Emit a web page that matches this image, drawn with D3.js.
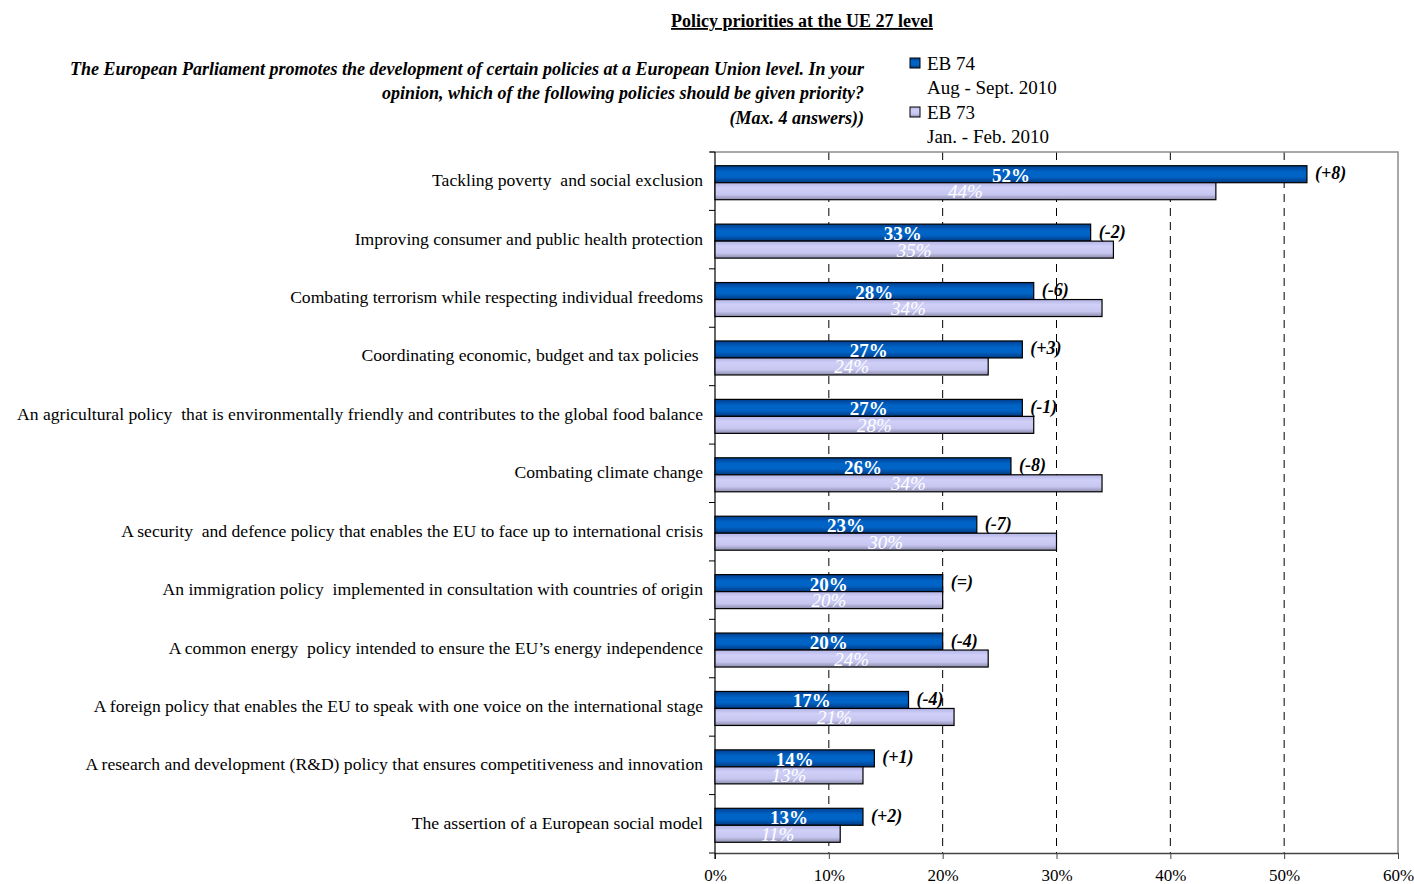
<!DOCTYPE html>
<html>
<head>
<meta charset="utf-8">
<script src="https://cdn.jsdelivr.net/npm/d3@7/dist/d3.min.js"></script>
<style>
  body { margin: 0; background: #fff; }
  svg text { font-family: "Liberation Serif", "Times New Roman", serif; }
</style>
</head>
<body>
<svg width="1414" height="884"></svg>
<script>
// categories, top to bottom
const categories = [
  "Tackling poverty  and social exclusion",
  "Improving consumer and public health protection",
  "Combating terrorism while respecting individual freedoms",
  "Coordinating economic, budget and tax policies ",
  "An agricultural policy  that is environmentally friendly and contributes to the global food balance",
  "Combating climate change",
  "A security  and defence policy that enables the EU to face up to international crisis",
  "An immigration policy  implemented in consultation with countries of origin",
  "A common energy  policy intended to ensure the EU\u2019s energy independence",
  "A foreign policy that enables the EU to speak with one voice on the international stage",
  "A research and development (R&D) policy that ensures competitiveness and innovation",
  "The assertion of a European social model"
];
const eb74 = [52, 33, 28, 27, 27, 26, 23, 20, 20, 17, 14, 13];
const eb73 = [44, 35, 34, 24, 28, 34, 30, 20, 24, 21, 13, 11];
const changes = ["(+8)", "(-2)", "(-6)", "(+3)", "(-1)", "(-8)", "(-7)", "(=)", "(-4)", "(-4)", "(+1)", "(+2)"];
const ticks = [0, 10, 20, 30, 40, 50, 60];

const svg = d3.select("svg").attr("font-family", "Liberation Serif, serif");

// gradients for the bars
const defs = svg.append("defs");
function grad(id, stops) {
  const g = defs.append("linearGradient").attr("id", id)
    .attr("x1", 0).attr("y1", 0).attr("x2", 0).attr("y2", 1);
  stops.forEach(s => g.append("stop").attr("offset", s[0]).attr("stop-color", s[1]));
}
grad("gDark", [[0, "#003f8f"], [0.35, "#0063c6"], [0.65, "#0063c6"], [1, "#003a80"]]);
grad("gLight", [[0, "#b4b4e6"], [0.3, "#cfcff8"], [0.7, "#c6c6f0"], [1, "#8c8cac"]]);

const plotL = 715, plotR = 1398, plotT = 152, plotB = 853;

const x = d3.scaleLinear().domain([0, 60]).range([plotL, plotR]);
const y = d3.scaleBand().domain(d3.range(categories.length)).range([plotT, plotB]);
const barH = 17;

// dashed gridlines
svg.append("g").selectAll("line")
  .data(ticks.filter(t => t > 0 && t < 60)).enter()
  .append("line")
  .attr("x1", d => x(d)).attr("x2", d => x(d))
  .attr("y1", plotT).attr("y2", plotB)
  .attr("stroke", "#000").attr("stroke-width", 1)
  .attr("stroke-dasharray", "8,6");

// frame top and right
svg.append("path")
  .attr("d", `M${plotL - 5},${plotT}H${plotR}V${plotB}`)
  .attr("fill", "none").attr("stroke", "#8c8c8c").attr("stroke-width", 1.5);

// x axis
const xAxis = svg.append("g")
  .attr("transform", `translate(0,${plotB})`)
  .call(d3.axisBottom(x).tickValues(ticks).tickFormat(d => d + "%").tickSize(6).tickSizeOuter(0));
xAxis.select(".domain").attr("stroke", "#444").attr("stroke-width", 1.5);
xAxis.selectAll(".tick line").attr("stroke", "#444");
xAxis.selectAll("text")
  .attr("font-size", 17).attr("fill", "#000")
  .attr("font-family", "Liberation Serif, serif")
  .attr("dy", null).attr("y", 28);

// y axis line and tick marks between bands
svg.append("line")
  .attr("x1", plotL).attr("x2", plotL).attr("y1", plotT).attr("y2", plotB + 6)
  .attr("stroke", "#000").attr("stroke-width", 1.2);
svg.append("g").selectAll("line")
  .data(d3.range(categories.length + 1)).enter()
  .append("line")
  .attr("x1", plotL - 6).attr("x2", plotL)
  .attr("y1", d => plotT + d * y.step()).attr("y2", d => plotT + d * y.step())
  .attr("stroke", "#000");

const rows = svg.append("g").selectAll("g")
  .data(categories).enter()
  .append("g")
  .attr("transform", (d, i) => `translate(0,${y(i) + y.bandwidth() / 2})`);

// category labels
rows.append("text")
  .attr("x", 703).attr("y", 5)
  .attr("text-anchor", "end")
  .attr("font-size", 17.6)
  .attr("xml:space", "preserve")
  .style("white-space", "pre")
  .text(d => d);

// EB 74 bars
rows.append("rect")
  .attr("x", plotL).attr("y", -15.5)
  .attr("width", (d, i) => x(eb74[i]) - plotL).attr("height", barH)
  .attr("fill", "url(#gDark)").attr("stroke", "#000").attr("stroke-width", 1.2);

// EB 73 bars
rows.append("rect")
  .attr("x", plotL).attr("y", 1.5)
  .attr("width", (d, i) => x(eb73[i]) - plotL).attr("height", barH)
  .attr("fill", "url(#gLight)").attr("stroke", "#000").attr("stroke-width", 1.2);

// EB 74 values
rows.append("text")
  .attr("x", (d, i) => (plotL + x(eb74[i])) / 2).attr("y", 0.5)
  .attr("text-anchor", "middle")
  .attr("font-size", 19).attr("font-weight", "bold").attr("fill", "#fff")
  .text((d, i) => eb74[i] + "%");

// EB 73 values
rows.append("text")
  .attr("x", (d, i) => (plotL + x(eb73[i])) / 2).attr("y", 17)
  .attr("text-anchor", "middle")
  .attr("font-size", 19).attr("font-style", "italic").attr("fill", "#fff")
  .text((d, i) => eb73[i] + "%");

// change labels
rows.append("text")
  .attr("x", (d, i) => x(eb74[i]) + 8).attr("y", -2)
  .attr("font-size", 18).attr("font-weight", "bold").attr("font-style", "italic")
  .text((d, i) => changes[i]);

// title
svg.append("text")
  .attr("x", 802).attr("y", 27)
  .attr("text-anchor", "middle")
  .attr("font-size", 18).attr("font-weight", "bold")
  .attr("text-decoration", "underline")
  .text("Policy priorities at the UE 27 level");

// question
const q = svg.append("text")
  .attr("text-anchor", "end")
  .attr("font-size", 18).attr("font-weight", "bold").attr("font-style", "italic");
[
  ["The European Parliament promotes the development of certain policies at a European Union level. In your", 75],
  ["opinion, which of the following policies should be given priority?", 99],
  ["(Max. 4 answers))", 124]
].forEach(l => q.append("tspan").attr("x", 864).attr("y", l[1]).text(l[0]));

// legend
const legendItems = [
  { fill: "url(#gDark)", name: "EB 74", period: "Aug - Sept. 2010" },
  { fill: "url(#gLight)", name: "EB 73", period: "Jan. - Feb. 2010" }
];
const legend = svg.append("g").selectAll("g")
  .data(legendItems).enter()
  .append("g")
  .attr("transform", (d, i) => `translate(910,${58 + i * 49})`);
legend.append("rect")
  .attr("width", 10).attr("height", 10)
  .attr("fill", d => d.fill).attr("stroke", "#000");
legend.append("text")
  .attr("x", 17).attr("y", 12).attr("font-size", 19)
  .text(d => d.name);
legend.append("text")
  .attr("x", 17).attr("y", 36).attr("font-size", 19)
  .text(d => d.period);
</script>
</body>
</html>
